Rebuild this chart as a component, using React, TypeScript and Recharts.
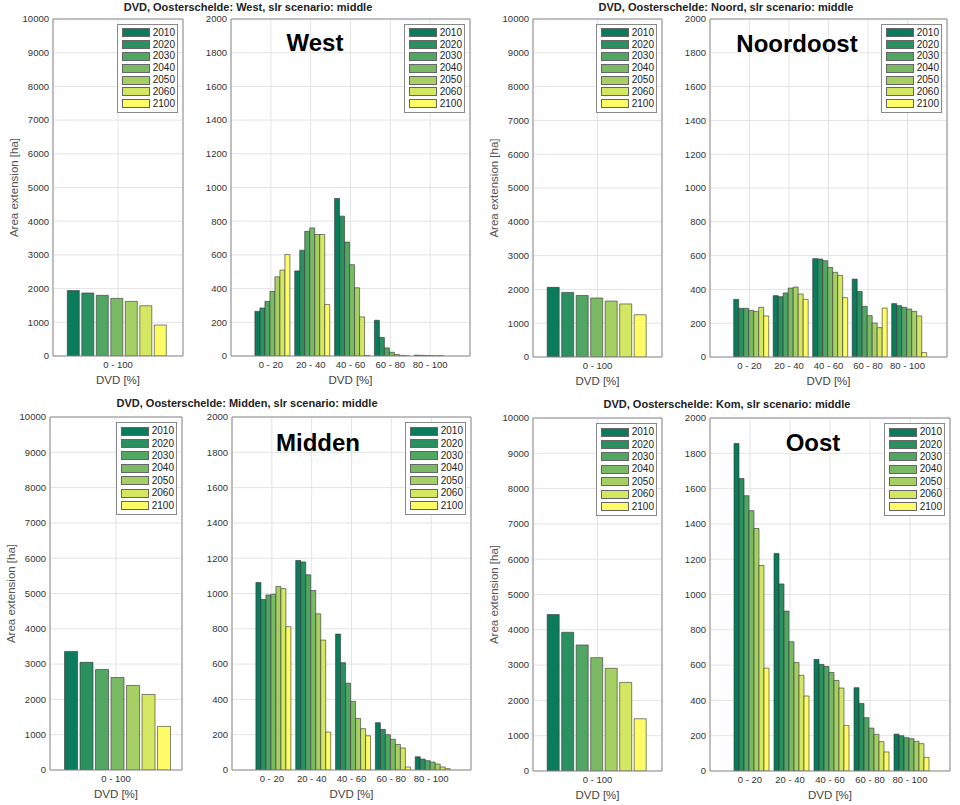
import React from "react";
import { BarChart, Bar, XAxis, YAxis, CartesianGrid, Legend } from "recharts";

const years = ["2010", "2020", "2030", "2040", "2050", "2060", "2100"];
const yearColors = ["#0b7b5b", "#2a9060", "#52a663", "#7bba64", "#a6d064", "#d4e763", "#fdfb66"];

const totalClass = ["0 - 100"];
const dvdClasses = ["0 - 20", "20 - 40", "40 - 60", "60 - 80", "80 - 100"];

const totalTicks = [0, 1000, 2000, 3000, 4000, 5000, 6000, 7000, 8000, 9000, 10000];
const detailTicks = [0, 200, 400, 600, 800, 1000, 1200, 1400, 1600, 1800, 2000];

// area [ha] with DVD 0-100, one value per year
const westTotal = [1940, 1870, 1800, 1710, 1620, 1490, 920];
const noordTotal = [2060, 1910, 1820, 1745, 1655, 1570, 1250];
const middenTotal = [3360, 3050, 2850, 2620, 2395, 2140, 1235];
const komTotal = [4430, 3930, 3570, 3210, 2910, 2510, 1480];

// area [ha] per DVD class, one row per year (2010 ... 2100)
const westDetail = [
  [265, 505, 935, 212, 5],
  [285, 628, 830, 110, 4],
  [324, 740, 676, 48, 3],
  [383, 760, 542, 22, 2],
  [470, 721, 405, 9, 1],
  [510, 721, 232, 4, 1],
  [602, 306, 3, 1, 0],
];
const noordDetail = [
  [341, 363, 582, 461, 316],
  [288, 357, 580, 388, 304],
  [288, 379, 570, 300, 294],
  [276, 408, 530, 245, 284],
  [270, 414, 501, 201, 270],
  [294, 373, 483, 174, 243],
  [243, 341, 351, 290, 26],
];
const middenDetail = [
  [1062, 1187, 770, 268, 75],
  [966, 1179, 608, 230, 62],
  [992, 1106, 492, 200, 53],
  [996, 1017, 389, 174, 45],
  [1040, 885, 292, 145, 34],
  [1028, 736, 234, 125, 17],
  [812, 215, 194, 17, 8],
];
const komDetail = [
  [1855, 1232, 632, 472, 209],
  [1657, 1060, 604, 383, 200],
  [1560, 906, 592, 302, 189],
  [1475, 732, 558, 243, 183],
  [1374, 615, 513, 208, 168],
  [1164, 542, 470, 166, 155],
  [583, 425, 258, 108, 77],
];

const FONT = "'Liberation Sans', Arial, sans-serif";
const AXIS = "#8c8c8c";

type Rect = { x0: number; x1: number; y0: number; y1: number };

const makeLegend = (rowH: number) => (props: any) => {
  const { payload = [] } = props;
  return (
    <div
      style={{
        border: "1px solid #8a8a8a",
        background: "#fff",
        padding: "2px 2px 2px 4px",
        width: 61,
        boxSizing: "border-box",
        fontFamily: FONT,
      }}
    >
      {payload.map((p: any) => (
        <div key={p.value} style={{ display: "flex", alignItems: "center", height: rowH }}>
          <span
            style={{
              display: "inline-block",
              width: 29,
              height: 9,
              background: p.color,
              border: "1px solid #666",
              boxSizing: "border-box",
              marginRight: 3,
            }}
          />
          <span style={{ fontSize: 10, color: "#222", lineHeight: "10px" }}>{p.value}</span>
        </div>
      ))}
    </div>
  );
};

function Panel({
  rect,
  cats,
  rows,
  ticks,
  detail,
  rowH,
}: {
  rect: Rect;
  cats: string[];
  rows: number[][];
  ticks: number[];
  detail: boolean;
  rowH: number;
}) {
  const plotW = rect.x1 - rect.x0;
  const plotH = rect.y1 - rect.y0;
  const axisW = 50;
  const padTop = 10;
  const padRight = 8;
  const xAxisH = 30;
  const padBottom = 4;
  const yMax = ticks[ticks.length - 1];
  const pad = detail ? plotW / 12 : 0;

  const data = cats.map((c, i) => {
    const row: any = { dvd: c };
    years.forEach((y, k) => {
      row[y] = rows[k][i];
    });
    return row;
  });

  return (
    <div style={{ position: "absolute", left: rect.x0 - axisW, top: rect.y0 - padTop - 1 }}>
      <BarChart
        width={axisW + plotW + 1 + padRight}
        height={padTop + 1 + plotH + xAxisH + padBottom}
        data={data}
        margin={{ top: padTop, right: padRight, bottom: padBottom, left: 0 }}
        barGap={detail ? 0 : 2.5}
        barCategoryGap={detail ? "10%" : "11%"}
      >
        <CartesianGrid stroke="#e4e4e4" />
        <XAxis
          dataKey="dvd"
          interval={0}
          height={xAxisH}
          tickLine={false}
          tickSize={3}
          tickMargin={2}
          axisLine={{ stroke: AXIS }}
          tick={{ fontSize: 9.5, fill: "#333", fontFamily: FONT }}
          padding={{ left: pad, right: pad }}
          label={{
            value: "DVD [%]",
            position: "insideBottom",
            offset: 2,
            style: { fontSize: 11.5, fill: "#444", fontFamily: FONT },
          }}
        />
        <XAxis
          xAxisId="top"
          orientation="top"
          dataKey="dvd"
          height={1}
          tick={false}
          tickLine={false}
          axisLine={{ stroke: AXIS }}
          padding={{ left: pad, right: pad }}
        />
        <YAxis
          width={axisW}
          domain={[0, yMax]}
          ticks={ticks}
          interval={0}
          allowDataOverflow
          tickLine={false}
          tickSize={3}
          tickMargin={1}
          axisLine={{ stroke: AXIS }}
          tick={{ fontSize: 9.5, fill: "#333", fontFamily: FONT }}
          label={
            detail
              ? undefined
              : {
                  value: "Area extension [ha]",
                  angle: -90,
                  position: "insideLeft",
                  offset: 11,
                  style: { textAnchor: "middle", fontSize: 11.5, fill: "#555", fontFamily: FONT },
                }
          }
        />
        <YAxis
          yAxisId="right"
          orientation="right"
          width={1}
          domain={[0, yMax]}
          tick={false}
          tickLine={false}
          axisLine={{ stroke: AXIS }}
        />
        <Legend
          layout="horizontal"
          align="center"
          verticalAlign="middle"
          content={makeLegend(rowH)}
          wrapperStyle={{ left: axisW + plotW - 5 - 61, top: padTop + 1 + 5, width: 61, height: "auto" }}
        />
        {years.map((y, k) => (
          <Bar
            key={y}
            dataKey={y}
            name={y}
            fill={yearColors[k]}
            stroke="#333"
            strokeWidth={0.6}
            isAnimationActive={false}
          />
        ))}
      </BarChart>
    </div>
  );
}

const wrap = (arr: number[]) => arr.map((v) => [v]);

function Title({ text, cx, cy }: { text: string; cx: number; cy: number }) {
  return (
    <div
      style={{
        position: "absolute",
        left: cx - 220,
        top: cy - 7,
        width: 440,
        textAlign: "center",
        fontSize: 11,
        fontWeight: "bold",
        lineHeight: "14px",
        color: "#222",
      }}
    >
      {text}
    </div>
  );
}

function Region({ text, cx, cy }: { text: string; cx: number; cy: number }) {
  return (
    <div
      style={{
        position: "absolute",
        left: cx - 100,
        top: cy - 15,
        width: 200,
        textAlign: "center",
        fontSize: 24,
        fontWeight: "bold",
        lineHeight: "30px",
        color: "#000",
      }}
    >
      {text}
    </div>
  );
}

export default function App() {
  return (
    <div
      style={{
        position: "absolute",
        left: 0,
        top: 0,
        width: 960,
        height: 805,
        background: "#fff",
        fontFamily: FONT,
        overflow: "hidden",
      }}
    >
      <Panel rect={{ x0: 53, x1: 183, y0: 19, y1: 356 }} cats={totalClass} rows={wrap(westTotal)} ticks={totalTicks} detail={false} rowH={11.8} />
      <Panel rect={{ x0: 231, x1: 470, y0: 19, y1: 356 }} cats={dvdClasses} rows={westDetail} ticks={detailTicks} detail rowH={11.8} />
      <Panel rect={{ x0: 533, x1: 662, y0: 19, y1: 357 }} cats={totalClass} rows={wrap(noordTotal)} ticks={totalTicks} detail={false} rowH={11.8} />
      <Panel rect={{ x0: 710, x1: 947, y0: 19, y1: 357 }} cats={dvdClasses} rows={noordDetail} ticks={detailTicks} detail rowH={11.8} />
      <Panel rect={{ x0: 50, x1: 182, y0: 417, y1: 770 }} cats={totalClass} rows={wrap(middenTotal)} ticks={totalTicks} detail={false} rowH={12.4} />
      <Panel rect={{ x0: 232, x1: 471, y0: 417, y1: 770 }} cats={dvdClasses} rows={middenDetail} ticks={detailTicks} detail rowH={12.4} />
      <Panel rect={{ x0: 533, x1: 662, y0: 418, y1: 771 }} cats={totalClass} rows={wrap(komTotal)} ticks={totalTicks} detail={false} rowH={12.4} />
      <Panel rect={{ x0: 710, x1: 950, y0: 418, y1: 771 }} cats={dvdClasses} rows={komDetail} ticks={detailTicks} detail rowH={12.4} />

      <Title text="DVD, Oosterschelde: West, slr scenario: middle" cx={248} cy={7} />
      <Title text="DVD, Oosterschelde: Noord, slr scenario: middle" cx={726} cy={7} />
      <Title text="DVD, Oosterschelde: Midden, slr scenario: middle" cx={247} cy={403} />
      <Title text="DVD, Oosterschelde: Kom, slr scenario: middle" cx={727} cy={404} />

      <Region text="West" cx={315} cy={43} />
      <Region text="Noordoost" cx={797} cy={44} />
      <Region text="Midden" cx={318} cy={443} />
      <Region text="Oost" cx={813} cy={443} />
    </div>
  );
}
